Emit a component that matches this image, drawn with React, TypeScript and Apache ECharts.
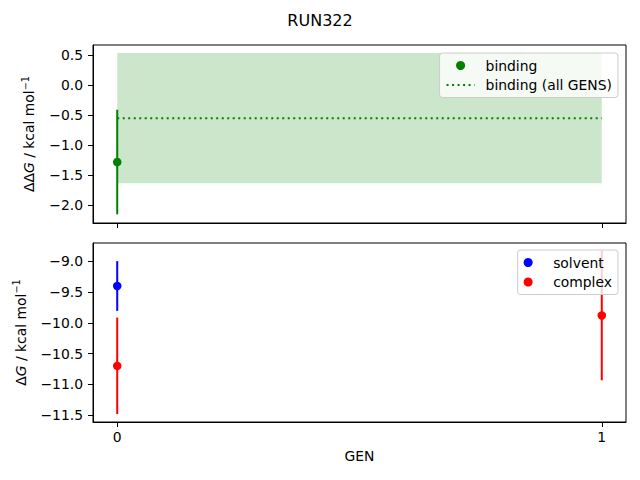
import { useEffect, useRef } from 'react';
import * as echarts from 'echarts';

// Values (kcal/mol).
const TITLE = 'RUN322';
const X_TICKS = [0, 1];
const TOP_TICKS = [-2.0, -1.5, -1.0, -0.5, 0.0, 0.5];
const BOTTOM_TICKS = [-11.5, -11.0, -10.5, -10.0, -9.5, -9.0];

const bindingGen = [0];
const bindingVal = [-1.28];
const bindingErr = [0.87];

// mean over all gens, drawn as dotted line + shaded band
const bindingAllVal = -0.55;
const bindingAllErr = 1.085;

const solventGen = [0];
const solventVal = [-9.4];
const solventErr = [0.405];

const complexGen = [0, 1];
const complexVal = [-10.7, -9.88];
const complexErr = [0.785, 1.055];

const FONT = 'DejaVu Sans';
const GREEN = '#008000';
const BLUE = '#0000ff';
const RED = '#ff0000';

const fmt = (v: number) => v.toFixed(1).replace('-', '\u2212');

const errRows = (xs: number[], ys: number[], es: number[]) =>
  xs.map((x, i) => [x, ys[i] - es[i], ys[i] + es[i]]);

const errorBar = (name: string, idx: number, color: string, rows: number[][]) => ({
  name,
  type: 'custom',
  xAxisIndex: idx,
  yAxisIndex: idx,
  data: rows,
  encode: { x: 0, y: [1, 2] },
  z: 3,
  renderItem: (_p: any, api: any) => {
    const a = api.coord([api.value(0), api.value(1)]);
    const b = api.coord([api.value(0), api.value(2)]);
    return {
      type: 'line',
      shape: { x1: a[0], y1: a[1], x2: b[0], y2: b[1] },
      style: { stroke: color, lineWidth: 2 },
    };
  },
});

const dot = (name: string, idx: number, color: string, xs: number[], ys: number[]) => ({
  name,
  type: 'scatter',
  xAxisIndex: idx,
  yAxisIndex: idx,
  symbol: 'circle',
  symbolSize: 8.5,
  itemStyle: { color, opacity: 1 },
  data: xs.map((x, i) => [x, ys[i]]),
  z: 4,
});

const axisLabelStyle = { fontFamily: FONT, fontSize: 13.9, color: '#000' };

const yName = (prefix: string) => `${prefix}{i|G} / kcal mol{sup|\u22121}`;

const yAxis = (idx: number, min: number, max: number, ticks: number[], name: string, gap: number) => ({
  type: 'value',
  gridIndex: idx,
  min,
  max,
  name,
  nameLocation: 'middle',
  nameRotate: 90,
  nameGap: gap,
  nameTextStyle: {
    ...axisLabelStyle,
    lineHeight: 18,
    rich: {
      i: { fontFamily: FONT, fontSize: 13.9, fontStyle: 'italic', color: '#000', lineHeight: 18 },
      sup: { fontFamily: FONT, fontSize: 9.7, color: '#000', verticalAlign: 'top', lineHeight: 18 },
    },
  },
  axisLine: { show: true, onZero: false, lineStyle: { color: '#000', width: 1 } },
  axisTick: { show: true, length: 5, customValues: ticks, lineStyle: { color: '#000', width: 1 } },
  axisLabel: { ...axisLabelStyle, margin: 10, customValues: ticks, formatter: fmt },
  splitLine: { show: false },
});

const xAxis = (idx: number, showLabels: boolean) => ({
  type: 'value',
  gridIndex: idx,
  min: -0.05,
  max: 1.05,
  name: showLabels ? 'GEN' : '',
  nameLocation: 'middle',
  nameGap: 27,
  nameTextStyle: axisLabelStyle,
  axisLine: { show: true, onZero: false, lineStyle: { color: '#000', width: 1 } },
  axisTick: { show: true, length: 5, customValues: X_TICKS, lineStyle: { color: '#000', width: 1 } },
  axisLabel: {
    ...axisLabelStyle,
    show: showLabels,
    margin: 8,
    customValues: X_TICKS,
    formatter: (v: number) => String(Math.round(v)),
  },
  splitLine: { show: false },
});

const legendBox = {
  orient: 'vertical',
  align: 'left',
  backgroundColor: 'rgba(255,255,255,0.8)',
  borderColor: '#cccccc',
  borderWidth: 1,
  borderRadius: 3,
  padding: [5.5, 6, 5.5, 6],
  itemWidth: 28,
  itemHeight: 9,
  itemGap: 5.5,
  symbolKeepAspect: true,
  textStyle: { ...axisLabelStyle, padding: [0, 0, 0, 6] },
};

export default function App() {
  const ref = useRef<HTMLDivElement | null>(null);

  useEffect(() => {
    document.body.style.margin = '0';
    if (!ref.current) return;
    const chart = echarts.init(ref.current, null, { renderer: 'svg' });

    chart.setOption({
      animation: false,
      backgroundColor: '#ffffff',
      title: {
        text: TITLE,
        left: 'center',
        top: 7,
        textStyle: { fontFamily: FONT, fontSize: 16, fontWeight: 'normal', color: '#000' },
      },
      grid: [
        { left: 93, right: 14, top: 45, height: 178, show: true, borderColor: '#000', borderWidth: 1, backgroundColor: 'transparent' },
        { left: 93, right: 14, top: 243, height: 179, show: true, borderColor: '#000', borderWidth: 1, backgroundColor: 'transparent' },
      ],
      xAxis: [xAxis(0, false), xAxis(1, true)],
      yAxis: [
        yAxis(0, -2.295, 0.667, TOP_TICKS, yName('\u0394\u0394'), 50),
        yAxis(1, -11.614, -8.7, BOTTOM_TICKS, yName('\u0394'), 58),
      ],
      legend: [
        {
          ...legendBox,
          right: 22,
          top: 53,
          data: ['binding', { name: 'binding (all GENS)', itemStyle: { opacity: 0 } }],
        },
        { ...legendBox, right: 22, top: 250, data: ['solvent', 'complex'] },
      ],
      series: [
        {
          name: 'binding (all GENS)',
          type: 'line',
          xAxisIndex: 0,
          yAxisIndex: 0,
          symbol: 'none',
          data: X_TICKS.map((x) => [x, bindingAllVal]),
          lineStyle: { color: GREEN, width: 2, type: [2, 3.5] },
          itemStyle: { color: GREEN },
          z: 2,
          markArea: {
            silent: true,
            itemStyle: { color: 'rgba(0,128,0,0.2)' },
            data: [
              [
                { coord: [X_TICKS[0], bindingAllVal - bindingAllErr] },
                { coord: [X_TICKS[1], bindingAllVal + bindingAllErr] },
              ],
            ],
          },
        },
        errorBar('binding err', 0, GREEN, errRows(bindingGen, bindingVal, bindingErr)),
        dot('binding', 0, GREEN, bindingGen, bindingVal),
        errorBar('solvent err', 1, BLUE, errRows(solventGen, solventVal, solventErr)),
        dot('solvent', 1, BLUE, solventGen, solventVal),
        errorBar('complex err', 1, RED, errRows(complexGen, complexVal, complexErr)),
        dot('complex', 1, RED, complexGen, complexVal),
      ],
    });

    return () => chart.dispose();
  }, []);

  return <div ref={ref} style={{ width: 640, height: 480 }} />;
}
